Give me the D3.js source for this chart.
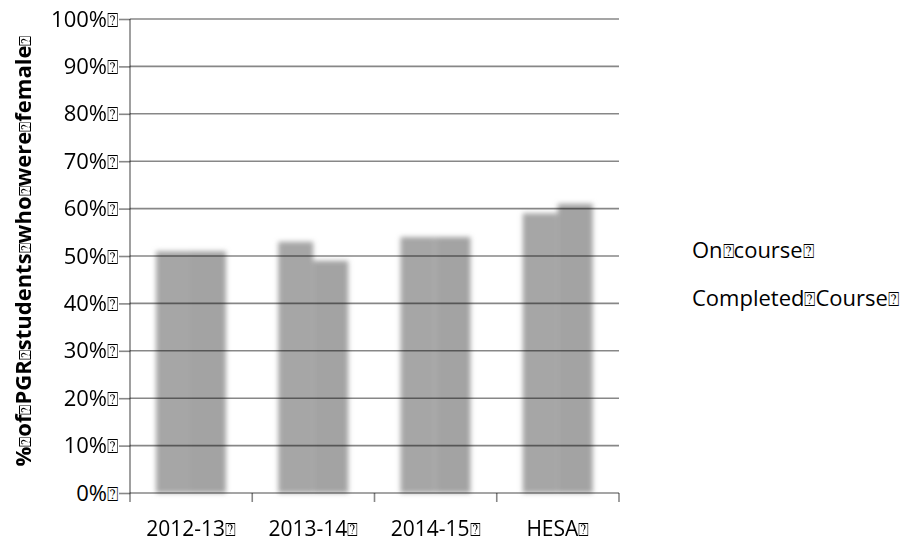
<!DOCTYPE html>
<html>
<head>
<meta charset="utf-8">
<script src="https://cdn.jsdelivr.net/npm/d3@7"></script>
<style>
  html, body { margin: 0; padding: 0; background: #fff; }
  svg { display: block; }
  text { font-family: "Open Sans", "Liberation Sans", sans-serif; fill: #000; }
</style>
</head>
<body>
<svg id="chart" width="907" height="544"></svg>
<script>
// Share of postgraduate research students who were female
const categories = ["2012-13", "2013-14", "2014-15", "HESA"];
const seriesNames = ["On course", "Completed Course"];
const onCourse = [51, 53, 54, 59];
const completedCourse = [51, 49, 54, 61];
const yTicks = [0, 10, 20, 30, 40, 50, 60, 70, 80, 90, 100];
const yTitle = "% of PGR students who were female";

const BOX = "\u2370"; // placeholder glyph shown after each label

const svg = d3.select("#chart");
const plotL = 130, plotR = 619, plotT = 19, plotB = 493;
const lineColor = "rgba(0,0,0,0.47)";

const x = d3.scaleBand().domain(categories).range([plotL, plotR]);
const xs = d3.scaleBand().domain(seriesNames).range([26, 96]);
const y = d3.scaleLinear().domain([0, 100]).range([plotB, plotT]);

const defs = svg.append("defs");
defs.append("filter").attr("id", "soft")
  .attr("x", "-20%").attr("y", "-10%").attr("width", "140%").attr("height", "120%")
  .append("feGaussianBlur").attr("stdDeviation", 2.4);

// bars
const rows = categories.map((c, i) => ({ cat: c, vals: [onCourse[i], completedCourse[i]] }));
const barG = svg.append("g").attr("filter", "url(#soft)");
barG.selectAll("g").data(rows).join("g")
  .attr("transform", d => `translate(${x(d.cat)},0)`)
  .selectAll("rect").data(d => d.vals.map((v, j) => ({ s: seriesNames[j], v })))
  .join("rect")
  .attr("x", d => xs(d.s))
  .attr("width", xs.bandwidth())
  .attr("y", d => y(d.v))
  .attr("height", d => plotB - y(d.v))
  .attr("fill", (d, j) => j === 0 ? "#a6a6a6" : "#a3a3a3");

// horizontal gridlines
svg.append("g").selectAll("line").data(yTicks.filter(t => t > 0)).join("line")
  .attr("x1", plotL).attr("x2", plotR)
  .attr("y1", d => y(d)).attr("y2", d => y(d))
  .attr("stroke", lineColor).attr("stroke-width", 1.6);

// y axis
const yAxis = d3.axisLeft(y).tickValues(yTicks).tickSize(11).tickPadding(1)
  .tickFormat(d => d + "%");
const yg = svg.append("g").attr("transform", `translate(${plotL},0)`).call(yAxis);
yg.select(".domain").remove();
yg.selectAll(".tick line").attr("stroke", lineColor).attr("stroke-width", 1.6);
yg.selectAll(".tick text").attr("font-size", 22).attr("fill", "#000")
  .attr("font-family", "'Open Sans', sans-serif")
  .append("tspan").attr("font-family", "DejaVu Sans").attr("font-size", 19).text(BOX);
svg.append("line").attr("x1", plotL).attr("x2", plotL).attr("y1", plotT).attr("y2", plotB)
  .attr("stroke", lineColor).attr("stroke-width", 1.6);

// x axis
svg.append("line").attr("x1", plotL).attr("x2", plotR).attr("y1", plotB).attr("y2", plotB)
  .attr("stroke", lineColor).attr("stroke-width", 1.6);
const bounds = categories.map(c => x(c)).concat([x.range()[1]]);
svg.append("g").selectAll("line").data(bounds).join("line")
  .attr("x1", d => d).attr("x2", d => d).attr("y1", plotB).attr("y2", plotB + 9)
  .attr("stroke", lineColor).attr("stroke-width", 1.6);
const xl = svg.append("g").selectAll("text").data(categories).join("text")
  .attr("x", d => x(d) + x.bandwidth() / 2).attr("y", 536)
  .attr("text-anchor", "middle").attr("font-size", 21)
  .text(d => d);
xl.append("tspan").attr("font-family", "DejaVu Sans").attr("font-size", 18).text(BOX);

// y title
const words = yTitle.split(" ");
const tt = svg.append("text")
  .attr("transform", "translate(31,251) rotate(-90)")
  .attr("text-anchor", "middle").attr("font-size", 22).attr("font-weight", 700);
words.forEach((w, i) => {
  tt.append("tspan").text(w);
  tt.append("tspan").attr("font-family", "DejaVu Sans").attr("font-size", 17)
    .attr("font-weight", 400).text(BOX);
});

// legend (text only)
const lg = svg.append("g").selectAll("text").data(seriesNames).join("text")
  .attr("x", 692).attr("y", (d, i) => 258 + i * 48).attr("font-size", 22);
lg.each(function (d) {
  const t = d3.select(this);
  d.split(" ").forEach(w => {
    t.append("tspan").text(w);
    t.append("tspan").attr("font-family", "DejaVu Sans").attr("font-size", 19).text(BOX);
  });
});
</script>
</body>
</html>
